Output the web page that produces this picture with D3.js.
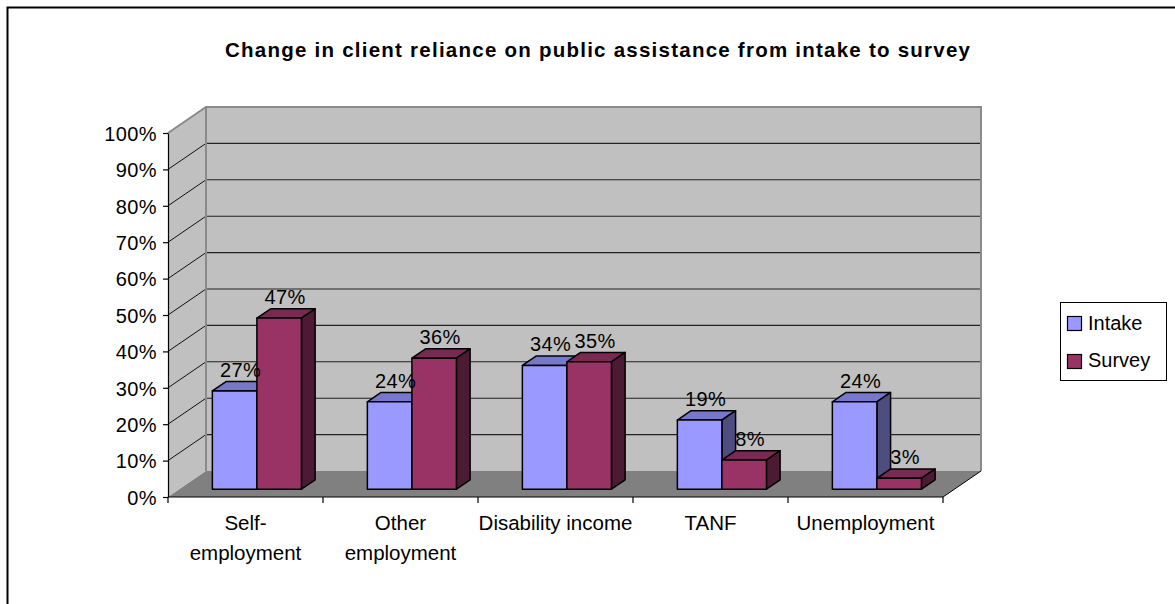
<!DOCTYPE html>
<html>
<head>
<meta charset="utf-8">
<script src="https://cdn.jsdelivr.net/npm/d3@7/dist/d3.min.js"></script>
<style>
  html, body { margin: 0; padding: 0; background: #fff; }
  svg { display: block; font-family: "Liberation Sans", Arial, sans-serif; }
</style>
</head>
<body>
<svg id="chart" width="1175" height="604"></svg>
<script>
// ---- data ----
const categories = ["Self-employment", "Other employment", "Disability income", "TANF", "Unemployment"];
const categoryLines = [["Self-", "employment"], ["Other", "employment"], ["Disability income"], ["TANF"], ["Unemployment"]];
const seriesNames = ["Intake", "Survey"];
const intakeValues = [27, 24, 34, 19, 24];
const surveyValues = [47, 36, 35, 8, 3];
const tickValues = [0, 10, 20, 30, 40, 50, 60, 70, 80, 90, 100];
const chartTitle = "Change in client reliance on public assistance from intake to survey";

// ---- colours for the 3-D faces ----
const faceColors = {
  Intake: { front: "#9999FF", top: "#7777CC", side: "#4D4D80" },
  Survey: { front: "#993366", top: "#7A2952", side: "#4D1A33" }
};

const svg = d3.select("#chart");

// front plane scales
const y = d3.scaleLinear().domain([0, 100]).range([497, 133]);
const x0 = d3.scaleBand().domain(categories).range([168, 943]);
const x1 = d3.scaleBand().domain(seriesNames).range([0, x0.bandwidth()]).paddingOuter(0.74).paddingInner(0);

// oblique depth vector of the whole floor, and the slab a bar occupies
const DX = 38, DY = -26;
const barD0 = 0.3, barD1 = 0.66;
const P = (px, v, d) => [px + d * DX, y(v) + d * DY];
const xL = x0.range()[0], xR = x0.range()[1];

// outer frame
svg.append("rect")
  .attr("x", 7.5).attr("y", 7.5).attr("width", 1180).attr("height", 610)
  .attr("fill", "none").attr("stroke", "#000").attr("stroke-width", 2);

// side wall
svg.append("polygon")
  .attr("points", [P(xL, 0, 0), P(xL, 100, 0), P(xL, 100, 1), P(xL, 0, 1)].map(p => p.join(",")).join(" "))
  .attr("fill", "#C0C0C0");
// back wall
svg.append("polygon")
  .attr("points", [P(xL, 0, 1), P(xL, 100, 1), P(xR, 100, 1), P(xR, 0, 1)].map(p => p.join(",")).join(" "))
  .attr("fill", "#C0C0C0");
// floor
svg.append("polygon")
  .attr("points", [P(xL, 0, 0), P(xR, 0, 0), P(xR, 0, 1), P(xL, 0, 1)].map(p => p.join(",")).join(" "))
  .attr("fill", "#808080");

// gridlines on back wall and side wall
const inner = tickValues.filter(v => v > 0 && v < 100);
svg.append("g").selectAll("line.back").data(inner).join("line")
  .attr("x1", v => P(xL, v, 1)[0]).attr("y1", v => P(xL, v, 1)[1])
  .attr("x2", v => P(xR, v, 1)[0]).attr("y2", v => P(xR, v, 1)[1])
  .attr("stroke", "#222").attr("stroke-width", 1.1);
svg.append("g").selectAll("line.side").data(inner).join("line")
  .attr("x1", v => P(xL, v, 0)[0]).attr("y1", v => P(xL, v, 0)[1])
  .attr("x2", v => P(xL, v, 1)[0]).attr("y2", v => P(xL, v, 1)[1])
  .attr("stroke", "#111").attr("stroke-width", 1);

// wall outlines
svg.append("path")
  .attr("d", d3.line()([P(xL, 100, 0), P(xL, 100, 1), P(xR, 100, 1), P(xR, 0, 1)]))
  .attr("fill", "none").attr("stroke", "#8a8a8a").attr("stroke-width", 2);
svg.append("line")
  .attr("x1", P(xL, 100, 1)[0]).attr("y1", P(xL, 100, 1)[1])
  .attr("x2", P(xL, 0, 1)[0]).attr("y2", P(xL, 0, 1)[1])
  .attr("stroke", "#8a8a8a").attr("stroke-width", 2);

// value axis
const yAxis = svg.append("g")
  .attr("transform", `translate(${xL},0)`)
  .call(d3.axisLeft(y).tickValues(tickValues).tickFormat(d => d + "%").tickSize(5).tickSizeOuter(0).tickPadding(6));
yAxis.selectAll("path, line").attr("stroke", "#000").attr("stroke-width", 1.2);
yAxis.selectAll("text")
  .attr("fill", "#000").style("font-size", "20px").style("letter-spacing", "0.4px")
  .style("font-family", "'Liberation Sans', Arial, sans-serif")
  .attr("dy", "0.36em");

// category axis: front edge, right floor edge, boundary ticks
svg.append("line")
  .attr("x1", xL).attr("y1", y(0)).attr("x2", xR).attr("y2", y(0))
  .attr("stroke", "#000").attr("stroke-width", 1.2);
svg.append("line")
  .attr("x1", xR).attr("y1", y(0)).attr("x2", P(xR, 0, 1)[0]).attr("y2", P(xR, 0, 1)[1])
  .attr("stroke", "#000").attr("stroke-width", 1);
const bounds = categories.map(c => x0(c)).concat([xR]);
svg.append("g").selectAll("line").data(bounds).join("line")
  .attr("x1", d => d).attr("x2", d => d)
  .attr("y1", y(0)).attr("y2", y(0) + 6)
  .attr("stroke", "#000").attr("stroke-width", 1.2);

// category labels
const catG = svg.append("g");
categories.forEach((c, i) => {
  const t = catG.append("text")
    .attr("x", x0(c) + x0.bandwidth() / 2)
    .attr("y", 530)
    .attr("text-anchor", "middle")
    .style("font-size", "20.5px");
  categoryLines[i].forEach((ln, k) => {
    t.append("tspan").attr("x", x0(c) + x0.bandwidth() / 2).attr("dy", k === 0 ? 0 : 30).text(ln);
  });
});

// 3-D bars
const rows = categories.map((c, i) => ({ c, vals: [
  { s: "Intake", v: intakeValues[i] },
  { s: "Survey", v: surveyValues[i] }
]}));
const poly = pts => pts.map(p => p.join(",")).join(" ");
const barG = svg.append("g");
rows.forEach(r => {
  r.vals.forEach(b => {
    const left = x0(r.c) + x1(b.s);
    const right = left + x1.bandwidth();
    const col = faceColors[b.s];
    const g = barG.append("g").attr("stroke", "#000").attr("stroke-width", 1.5).attr("stroke-linejoin", "round");
    // top face
    g.append("polygon").attr("fill", col.top)
      .attr("points", poly([P(left, b.v, barD0), P(right, b.v, barD0), P(right, b.v, barD1), P(left, b.v, barD1)]));
    // right face
    g.append("polygon").attr("fill", col.side)
      .attr("points", poly([P(right, 0, barD0), P(right, b.v, barD0), P(right, b.v, barD1), P(right, 0, barD1)]));
    // front face
    g.append("polygon").attr("fill", col.front)
      .attr("points", poly([P(left, 0, barD0), P(right, 0, barD0), P(right, b.v, barD0), P(left, b.v, barD0)]));
  });
});

// value labels
const labG = svg.append("g");
rows.forEach(r => {
  r.vals.forEach(b => {
    const left = x0(r.c) + x1(b.s);
    const front = P(left + x1.bandwidth() / 2, b.v, barD0);
    labG.append("text")
      .attr("x", front[0] + 6).attr("y", front[1] - 14)
      .attr("text-anchor", "middle")
      .style("font-size", "20px").style("letter-spacing", "0.4px")
      .text(b.v + "%");
  });
});

// legend
const leg = svg.append("g");
leg.append("rect").attr("x", 1060.5).attr("y", 302.5).attr("width", 106).attr("height", 78)
  .attr("fill", "#fff").attr("stroke", "#000").attr("stroke-width", 1);
seriesNames.forEach((s, i) => {
  leg.append("rect").attr("x", 1067.5).attr("y", 316.5 + i * 38).attr("width", 14).attr("height", 14)
    .attr("fill", faceColors[s].front).attr("stroke", "#000").attr("stroke-width", 1.2);
  leg.append("text").attr("x", 1088).attr("y", 329.5 + i * 37.5)
    .style("font-size", "20px").text(s);
});

// title
svg.append("text")
  .attr("x", 225).attr("y", 57)
  .attr("textLength", 745).attr("lengthAdjust", "spacing")
  .style("font-size", "20.5px").style("font-weight", "bold")
  .text(chartTitle);
</script>
</body>
</html>
